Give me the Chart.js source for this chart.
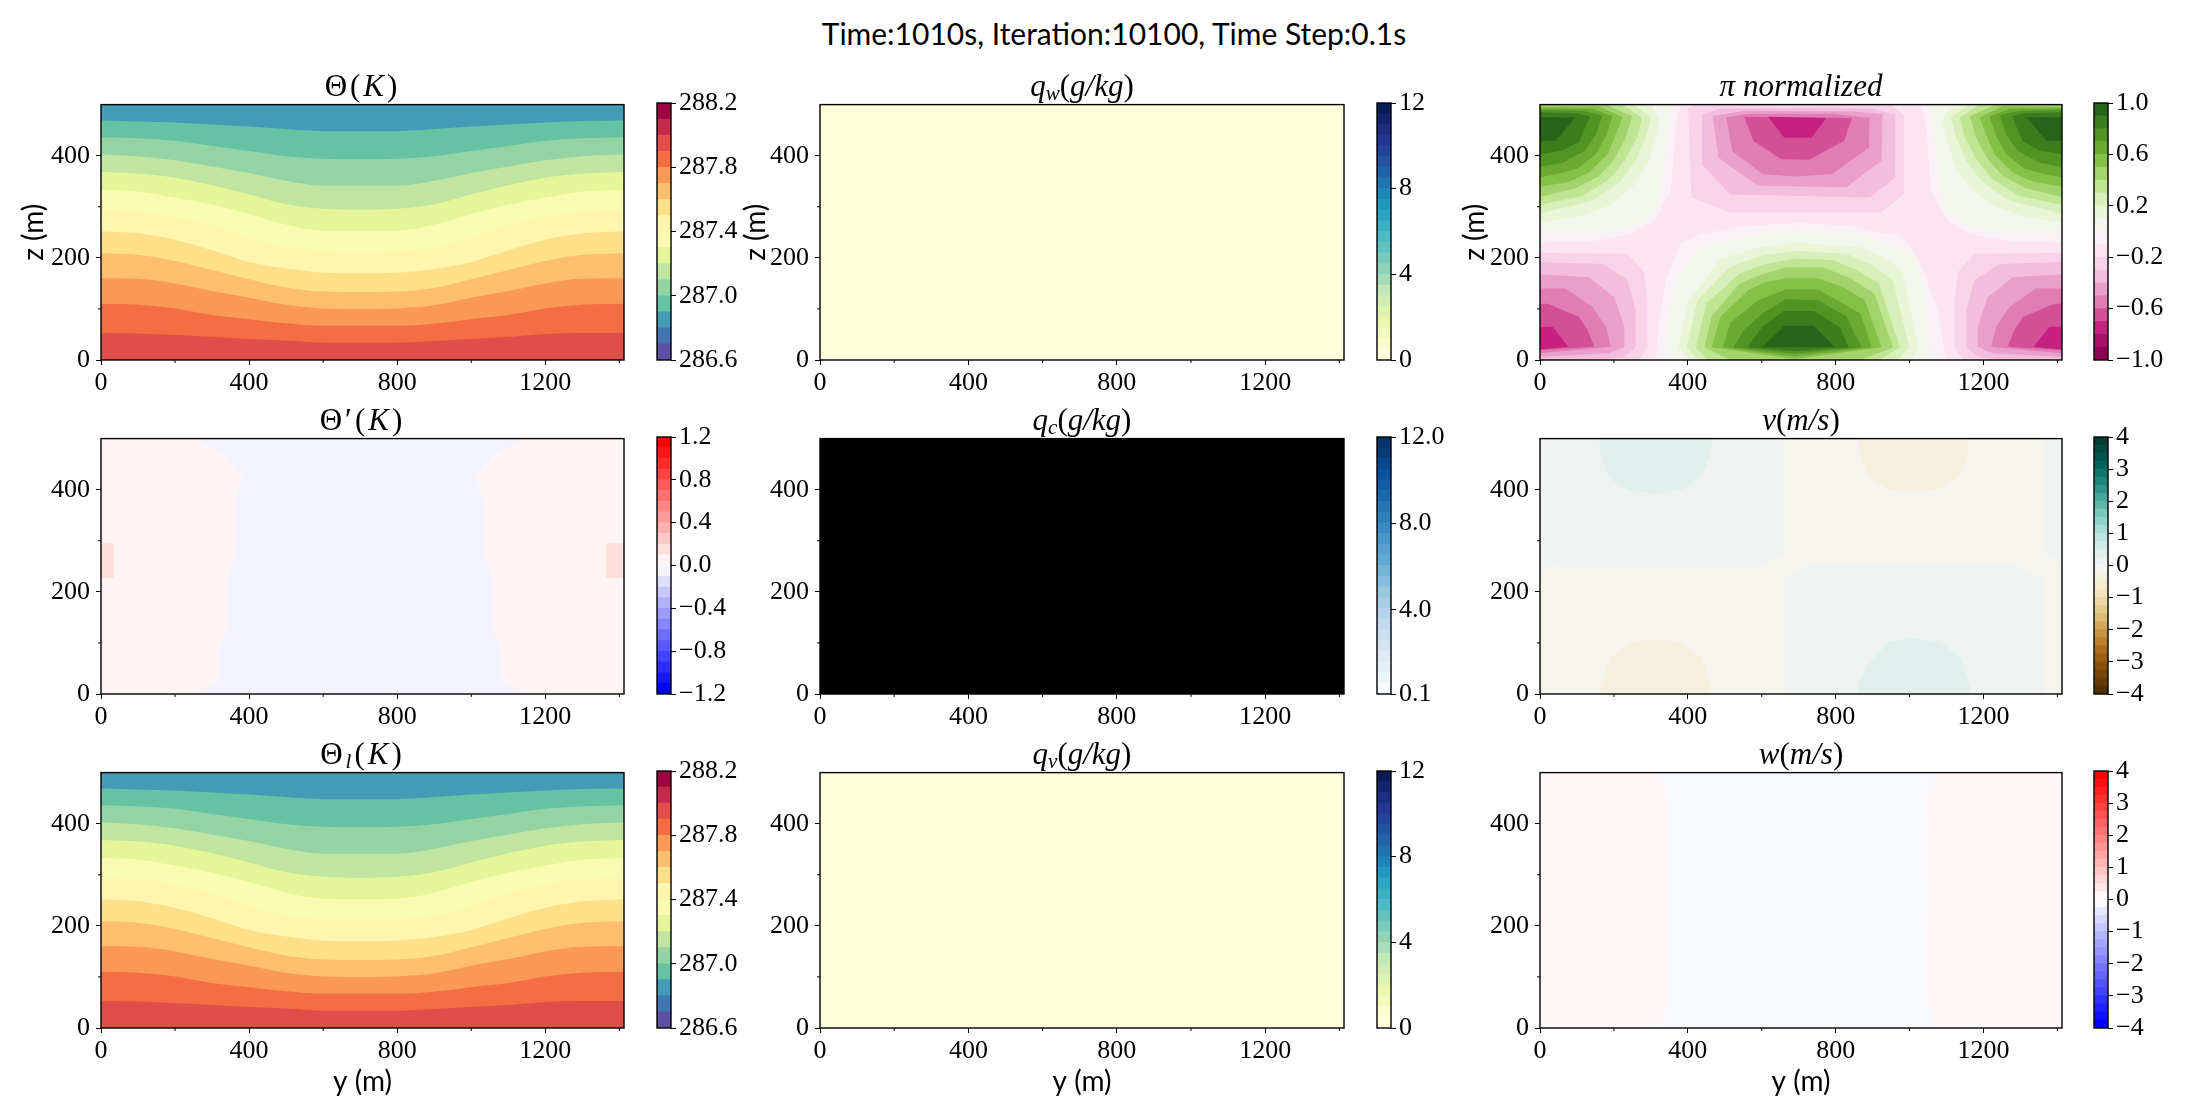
<!DOCTYPE html>
<html>
<head>
<meta charset="utf-8">
<title>Time:1010s, Iteration:10100, Time Step:0.1s</title>
<script src="https://cdn.jsdelivr.net/npm/chart.js@4"></script>
<style>
  html, body { margin: 0; padding: 0; background: #fff; }
  #page { position: relative; width: 2192px; height: 1115px; overflow: hidden; }
  canvas { position: absolute; }
  .title { position: absolute; text-align: center; white-space: nowrap; color: #000; z-index: 2;
           font-family: "Liberation Serif", serif; font-size: 31px; line-height: 30px; }
  .title sub { font-size: 21px; line-height: 0; vertical-align: -4px; }
  .title.wide { letter-spacing: 3px; }
  #suptitle { position: absolute; left: 0; width: 2228px; top: 14px; text-align: center;
              font-family: Lato, sans-serif; font-size: 30px; line-height: 38px; color: #000; }
</style>
</head>
<body>
<div id="page">
  <div id="suptitle">Time:1010s, Iteration:10100, Time Step:0.1s</div>
</div>
<script>
// axis data
const xMax = 1412.5;
const zMax = 500;
const xTicks = [0, 400, 800, 1200];
const zTicks = [0, 200, 400];
const xMinorTicks = [200, 600, 1000, 1400];
const zMinorTicks = [100, 300];

// colour levels of each field
const thetaLevels = [286.6, 286.7, 286.8, 286.9, 287.0, 287.1, 287.2, 287.3, 287.4, 287.5, 287.6, 287.7, 287.8, 287.9, 288.0, 288.1, 288.2];
const primeLevels = [-1.2, -1.1, -1.0, -0.9, -0.8, -0.7, -0.6, -0.5, -0.4, -0.3, -0.2, -0.1, 0, 0.1, 0.2, 0.3, 0.4, 0.5, 0.6, 0.7, 0.8, 0.9, 1.0, 1.1, 1.2];
const piLevels = [-1.0, -0.9, -0.8, -0.7, -0.6, -0.5, -0.4, -0.3, -0.2, -0.1, 0, 0.1, 0.2, 0.3, 0.4, 0.5, 0.6, 0.7, 0.8, 0.9, 1.0];
const qLevels = [0, 0.5, 1, 1.5, 2, 2.5, 3, 3.5, 4, 4.5, 5, 5.5, 6, 6.5, 7, 7.5, 8, 8.5, 9, 9.5, 10, 10.5, 11, 11.5, 12];
const qcLevels = [0.1, 0.6, 1.09, 1.59, 2.08, 2.58, 3.08, 3.57, 4.07, 4.56, 5.06, 5.55, 6.05, 6.55, 7.04, 7.54, 8.03, 8.53, 9.03, 9.52, 10.02, 10.51, 11.01, 11.5, 12];
const windLevels = [-4, -3.75, -3.5, -3.25, -3, -2.75, -2.5, -2.25, -2, -1.75, -1.5, -1.25, -1, -0.75, -0.5, -0.25, 0, 0.25, 0.5, 0.75, 1, 1.25, 1.5, 1.75, 2, 2.25, 2.5, 2.75, 3, 3.25, 3.5, 3.75, 4];

// colourbar ticks
const thetaBarTicks = [286.6, 287.0, 287.4, 287.8, 288.2];
const thetaBarLabels = ['286.6', '287.0', '287.4', '287.8', '288.2'];
const primeBarTicks = [-1.2, -0.8, -0.4, 0, 0.4, 0.8, 1.2];
const primeBarLabels = ['\u22121.2', '\u22120.8', '\u22120.4', '0.0', '0.4', '0.8', '1.2'];
const piBarTicks = [-1.0, -0.6, -0.2, 0.2, 0.6, 1.0];
const piBarLabels = ['\u22121.0', '\u22120.6', '\u22120.2', '0.2', '0.6', '1.0'];
const qBarTicks = [0, 4, 8, 12];
const qBarLabels = ['0', '4', '8', '12'];
const qcBarTicks = [0.1, 4, 8, 12];
const qcBarLabels = ['0.1', '4.0', '8.0', '12.0'];
const windBarTicks = [-4, -3, -2, -1, 0, 1, 2, 3, 4];
const windBarLabels = ['\u22124', '\u22123', '\u22122', '\u22121', '0', '1', '2', '3', '4'];

// colormap stops
const spectralR = ['#5e4fa2', '#3288bd', '#66c2a5', '#abdda4', '#e6f598', '#ffffbf', '#fee08b', '#fdae61', '#f46d43', '#d53e4f', '#9e0142'];
const piyg = ['#8e0152', '#c51b7d', '#de77ae', '#f1b6da', '#fde0ef', '#f7f7f7', '#e6f5d0', '#b8e186', '#7fbc41', '#4d9221', '#276419'];
const brbg = ['#543005', '#8c510a', '#bf812d', '#dfc27d', '#f6e8c3', '#f5f5f5', '#c7eae5', '#80cdc1', '#35978f', '#01665e', '#003c30'];
const ylgnbu = ['#ffffd9', '#edf8b1', '#c7e9b4', '#7fcdbb', '#41b6c4', '#1d91c0', '#225ea8', '#253494', '#081d58'];
const blues = ['#f7fbff', '#deebf7', '#c6dbef', '#9ecae1', '#6baed6', '#4292c6', '#2171b5', '#08519c', '#08306b'];
const bwr = ['#0000ff', '#ffffff', '#ff0000'];

// Theta: contour heights z at each y
const thetaY = [0, 100, 200, 300, 400, 500, 600, 700, 800, 900, 1000, 1100, 1200, 1300, 1412.5];
const thetaLine1 = [53, 52, 49, 45, 41, 38, 34, 34, 34, 37, 41, 45, 51, 53, 53];
const thetaLine2 = [110, 108, 101, 88, 80, 72, 67, 67, 67, 71, 80, 88, 101, 108, 110];
const thetaLine3 = [160, 159, 150, 135, 122, 108, 101, 100, 101, 107, 122, 135, 150, 159, 160];
const thetaLine4 = [209, 206, 194, 176, 158, 142, 134, 133, 134, 141, 158, 176, 194, 206, 209];
const thetaLine5 = [252, 248, 235, 215, 192, 179, 171, 170, 171, 178, 192, 215, 235, 248, 252];
const thetaLine6 = [293, 291, 280, 265, 239, 220, 213, 211, 213, 219, 239, 265, 280, 291, 293];
const thetaLine7 = [333, 330, 318, 304, 286, 265, 253, 252, 253, 265, 286, 304, 318, 330, 333];
const thetaLine8 = [368, 365, 357, 342, 324, 305, 296, 294, 296, 305, 324, 342, 357, 365, 368];
const thetaLine9 = [403, 399, 391, 379, 366, 351, 341, 341, 341, 351, 366, 379, 391, 399, 403];
const thetaLine10 = [436, 434, 429, 419, 409, 399, 394, 393, 394, 399, 409, 419, 429, 434, 436];
const thetaLine11 = [469, 467, 465, 461, 457, 452, 448, 448, 448, 452, 457, 461, 465, 468, 469];
const thetaLine12 = [500, 500, 500, 500, 500, 500, 500, 500, 500, 500, 500, 500, 500, 500, 500];
const thetaBottomUp = [thetaLine1, thetaLine2, thetaLine3, thetaLine4, thetaLine5, thetaLine6, thetaLine7, thetaLine8, thetaLine9, thetaLine10, thetaLine11, thetaLine12];
const thetaBands = [13, 12, 11, 10, 9, 8, 7, 6, 5, 4, 3, 2];

// pi: nested contours, outermost first [y, z]
const piTopCorner = [
  [[0, 500], [381, 500], [368, 461], [354, 331], [313, 276], [250, 247], [160, 234], [0, 230]],
  [[0, 500], [358, 500], [345, 435], [327, 331], [313, 292], [277, 269], [187, 250], [0, 250]],
  [[0, 500], [300, 500], [324, 471], [313, 435], [291, 383], [250, 338], [187, 302], [97, 279], [0, 269]],
  [[0, 500], [255, 500], [300, 474], [286, 435], [259, 390], [214, 347], [142, 312], [0, 287]],
  [[0, 500], [223, 500], [276, 474], [264, 438], [232, 393], [187, 354], [115, 321], [0, 304]],
  [[0, 500], [178, 500], [249, 477], [232, 435], [201, 393], [160, 360], [97, 336], [0, 319]],
  [[0, 496], [160, 497], [223, 475], [205, 441], [183, 403], [133, 367], [79, 349], [0, 339]],
  [[0, 493], [142, 492], [196, 477], [180, 441], [151, 403], [102, 375], [48, 364], [0, 358]],
  [[0, 490], [115, 488], [169, 479], [151, 441], [120, 409], [61, 386], [0, 378]],
  [[0, 485], [100, 483], [135, 477], [106, 428], [61, 410], [0, 403]],
  [[0, 475], [96, 475], [42, 429], [0, 429]]
];
const piBottomCentre = [
  [[313, 0], [322, 71], [340, 156], [381, 227], [438, 247], [564, 263], [706, 268], [829, 263], [980, 241], [1024, 198], [1075, 100], [1099, 0]],
  [[341, 0], [345, 71], [368, 162], [431, 221], [602, 250], [690, 253], [867, 247], [1012, 208], [1043, 130], [1056, 0]],
  [[375, 25], [401, 117], [489, 198], [590, 220], [690, 230], [867, 221], [930, 200], [980, 176], [1024, 25], [1005, 0], [401, 0]],
  [[397, 25], [426, 117], [514, 182], [600, 204], [690, 214], [829, 208], [900, 186], [955, 156], [999, 25], [968, 0], [426, 0]],
  [[422, 25], [451, 111], [539, 169], [610, 188], [690, 198], [791, 196], [860, 175], [917, 150], [974, 25], [917, 0], [451, 0]],
  [[445, 25], [464, 85], [539, 149], [600, 168], [665, 181], [766, 181], [840, 160], [905, 130], [955, 25], [867, 0], [516, 0]],
  [[464, 25], [489, 85], [564, 137], [610, 152], [665, 160], [753, 160], [820, 143], [879, 117], [924, 25], [690, 2]],
  [[495, 25], [514, 72], [590, 117], [665, 138], [753, 138], [867, 91], [898, 25], [690, 7]],
  [[524, 25], [552, 59], [602, 91], [665, 119], [753, 117], [829, 85], [870, 25], [690, 12]],
  [[561, 25], [602, 65], [659, 96], [741, 96], [810, 65], [835, 25], [690, 17]],
  [[602, 25], [661, 67], [741, 67], [798, 25]]
];
const piBottomCorner = [
  [[0, 210], [237, 208], [282, 172], [291, 110], [291, 26], [268, 0], [0, 0]],
  [[0, 192], [169, 188], [237, 156], [259, 97], [259, 26], [228, 6], [160, 0], [0, 0]],
  [[0, 168], [133, 162], [201, 123], [228, 65], [228, 26], [187, 13], [0, 6]],
  [[0, 140], [70, 140], [142, 104], [178, 65], [192, 26], [0, 13]],
  [[0, 110], [21, 110], [106, 84], [129, 58], [147, 26], [0, 19]],
  [[0, 65], [34, 65], [77, 26], [0, 21]]
];
const piTopCentre = [
  [[420, 500], [401, 493], [410, 318], [514, 289], [924, 289], [985, 325], [985, 480], [950, 500]],
  [[438, 480], [438, 383], [514, 324], [892, 318], [961, 357], [961, 481], [892, 493], [489, 493]],
  [[467, 477], [483, 396], [590, 341], [829, 338], [924, 390], [927, 481], [842, 487], [552, 488]],
  [[504, 475], [520, 409], [602, 364], [690, 359], [791, 364], [890, 416], [892, 474], [791, 482], [564, 482]],
  [[552, 476], [577, 429], [653, 393], [728, 392], [823, 429], [844, 474]],
  [[617, 476], [661, 435], [735, 435], [775, 474]]
];
const piGreenBands = [9, 10, 11, 12, 13, 14, 15, 16, 17, 18, 19];
const piPinkBands = [7, 6, 5, 4, 3, 2];

// Theta': one negative region and two warm patches
const primeNegative = [[254, 500], [317, 475], [384, 427], [361, 378], [361, 274], [340, 228], [340, 125], [315, 80], [315, 25], [252, 2], [252, 0], [1147, 0], [1082, 25], [1082, 80], [1059, 125], [1059, 226], [1038, 274], [1038, 374], [1011, 425], [1078, 475], [1141, 500]];
const primeLeftPatch = [[0, 295], [34, 295], [34, 227], [0, 227]];
const primeRightPatch = [[1364, 295], [1412.5, 295], [1412.5, 227], [1364, 227]];

// v: positive and negative lobes
const vTealTopLeft = [[0, 500], [661, 500], [661, 274], [590, 249], [16, 250], [0, 255]];
const vTealTopRight = [[1362, 500], [1412.5, 500], [1412.5, 258], [1362, 274]];
const vTealBottom = [[661, 0], [661, 226], [728, 252], [1289, 252], [1362, 226], [1362, 0]];
const vLobeTopLeft = [[161, 500], [161, 475], [186, 423], [239, 399], [312, 392], [386, 401], [438, 427], [464, 475], [464, 500]];
const vLobeBottomRight = [[861, 0], [861, 21], [892, 60], [942, 102], [1012, 109], [1081, 102], [1138, 73], [1163, 15], [1163, 0]];
const vLobeTopRight = [[863, 500], [863, 475], [892, 423], [942, 401], [1012, 394], [1081, 401], [1138, 427], [1159, 475], [1159, 500]];
const vLobeBottomLeft = [[164, 0], [164, 21], [193, 73], [239, 100], [312, 108], [382, 100], [438, 73], [461, 21], [461, 0]];

// w: central downdraft
const wNegative = [[319, 500], [350, 454], [350, 47], [319, 0], [1075, 0], [1046, 47], [1046, 177], [1050, 255], [1046, 454], [1075, 500]];

const fullDomain = [[0, 0], [xMax, 0], [xMax, zMax], [0, zMax]];

function hexToRgb(hex) {
  return [1, 3, 5].map(i => parseInt(hex.substr(i, 2), 16));
}

// sample a colormap at n evenly spaced places, ends included
function sampleColors(stops, n) {
  const out = [];
  for (let i = 0; i < n; i++) {
    const t = i / (n - 1) * (stops.length - 1);
    const k = Math.min(Math.floor(t), stops.length - 2);
    const a = hexToRgb(stops[k]);
    const b = hexToRgb(stops[k + 1]);
    const c = a.map((v, j) => Math.round(v + (b[j] - v) * (t - k)));
    out.push(`rgb(${c[0]},${c[1]},${c[2]})`);
  }
  return out;
}

function polygonSet(points, color) {
  return {
    data: points.map(p => ({ x: p[0], y: p[1] })),
    polygon: true,
    backgroundColor: color,
    showLine: false,
    pointRadius: 0
  };
}

function contourSet(zs, color) {
  return {
    data: thetaY.map((y, i) => ({ x: y, y: zs[i] })),
    showLine: true,
    fill: { value: 0 },
    backgroundColor: color,
    borderWidth: 0,
    pointRadius: 0,
    cubicInterpolationMode: 'monotone'
  };
}

const mirrored = points => points.map(p => [xMax - p[0], p[1]]);

// fills the closed regions, using the points the scales already placed
const polygonPlugin = {
  id: 'polygonFill',
  beforeDatasetsDraw(chart) {
    const ctx = chart.ctx;
    const a = chart.chartArea;
    ctx.save();
    ctx.beginPath();
    ctx.rect(a.left, a.top, a.width, a.height);
    ctx.clip();
    chart.data.datasets.forEach((ds, i) => {
      if (!ds.polygon) return;
      const pts = chart.getDatasetMeta(i).data;
      ctx.beginPath();
      pts.forEach((p, j) => (j ? ctx.lineTo(p.x, p.y) : ctx.moveTo(p.x, p.y)));
      ctx.closePath();
      ctx.fillStyle = ds.backgroundColor;
      ctx.fill();
    });
    ctx.restore();
  }
};

// axes frame and the short unlabelled ticks
const framePlugin = {
  id: 'frame',
  afterDraw(chart, args, opts) {
    const ctx = chart.ctx;
    const a = chart.chartArea;
    ctx.save();
    ctx.strokeStyle = '#000';
    ctx.lineWidth = 1.4;
    ctx.strokeRect(a.left, a.top, a.width, a.height);
    if (opts.minor) {
      ctx.lineWidth = 1;
      ctx.beginPath();
      xMinorTicks.forEach(v => {
        const px = chart.scales.x.getPixelForValue(v);
        ctx.moveTo(px, a.bottom);
        ctx.lineTo(px, a.bottom + 3);
      });
      zMinorTicks.forEach(v => {
        const py = chart.scales.y.getPixelForValue(v);
        ctx.moveTo(a.left, py);
        ctx.lineTo(a.left - 3, py);
      });
      ctx.stroke();
    }
    ctx.restore();
  }
};

Chart.register(polygonPlugin, framePlugin);

const tickFont = { family: 'Liberation Serif', size: 26 };
const labelFont = { family: 'Lato', size: 28 };
const plotHeight = 257;
const plotTopMargin = 20;

function addCanvas(left, top, width, height) {
  const c = document.createElement('canvas');
  c.width = width;
  c.height = height;
  c.style.left = left + 'px';
  c.style.top = top + 'px';
  c.style.width = width + 'px';
  c.style.height = height + 'px';
  document.getElementById('page').appendChild(c);
  return c;
}

function fixedTicks(values) {
  return s => { s.ticks = values.map(v => ({ value: v })); };
}

function drawPanel(col, rowTop, datasets, opts) {
  const left = col.labelX - 17;
  const xHeight = opts.xLabel ? 71 : 40;
  const yWidth = col.plotLeft - left;
  const c = addCanvas(left, rowTop - plotTopMargin, col.plotRight - left + 20, plotTopMargin + plotHeight + xHeight);
  new Chart(c, {
    type: 'scatter',
    data: { datasets: datasets },
    options: {
      responsive: false,
      animation: false,
      layout: { padding: { top: plotTopMargin, right: 20, left: 0, bottom: 0 } },
      plugins: { legend: { display: false }, tooltip: { enabled: false }, frame: { minor: true } },
      scales: {
        x: {
          type: 'linear',
          min: 0,
          max: xMax,
          afterBuildTicks: fixedTicks(xTicks),
          afterFit: s => { s.height = xHeight; },
          border: { display: false },
          grid: { drawOnChartArea: false, tickLength: 5, tickColor: '#000', tickWidth: 1 },
          ticks: { color: '#000', font: tickFont, padding: 3, maxRotation: 0, autoSkip: false, callback: v => String(v) },
          title: { display: !!opts.xLabel, text: 'y (m)', color: '#000', font: labelFont, padding: 0 }
        },
        y: {
          type: 'linear',
          min: 0,
          max: zMax,
          afterBuildTicks: fixedTicks(zTicks),
          afterFit: s => { s.width = yWidth; },
          border: { display: false },
          grid: { drawOnChartArea: false, tickLength: 5, tickColor: '#000', tickWidth: 1 },
          ticks: { color: '#000', font: tickFont, padding: 6, autoSkip: false, callback: v => String(v) },
          title: { display: !!opts.zLabel, text: 'z (m)', color: '#000', font: labelFont, padding: 0 }
        }
      }
    }
  });
}

function drawColorbar(col, rowTop, levels, colors, ticks, labels) {
  const c = addCanvas(col.cbarLeft - 2, rowTop - plotTopMargin, 104, plotHeight + 2 * plotTopMargin);
  const sets = colors.map((color, i) => ({
    data: [[levels[i], levels[i + 1]]],
    backgroundColor: color,
    borderWidth: 0,
    barPercentage: 1,
    categoryPercentage: 1,
    grouped: false
  }));
  new Chart(c, {
    type: 'bar',
    data: { labels: [''], datasets: sets },
    options: {
      responsive: false,
      animation: false,
      layout: { padding: { top: plotTopMargin, bottom: plotTopMargin, left: 2, right: 0 } },
      plugins: { legend: { display: false }, tooltip: { enabled: false }, frame: { minor: false } },
      scales: {
        x: { display: false },
        y: {
          position: 'right',
          min: levels[0],
          max: levels[levels.length - 1],
          afterBuildTicks: fixedTicks(ticks),
          afterFit: s => { s.width = 88; },
          border: { display: false },
          grid: { drawOnChartArea: false, tickLength: 5, tickColor: '#000', tickWidth: 1 },
          ticks: {
            color: '#000',
            font: tickFont,
            padding: 3,
            autoSkip: false,
            callback: (v, i) => labels[i]
          }
        }
      }
    }
  });
}

function addTitle(col, rowTop, html, wide) {
  const d = document.createElement('div');
  d.className = wide ? 'title wide' : 'title';
  d.style.left = col.plotLeft + 'px';
  d.style.width = (col.plotRight - col.plotLeft) + 'px';
  d.style.top = (rowTop - 32) + 'px';
  d.innerHTML = html;
  document.getElementById('page').appendChild(d);
}

const col1 = { plotLeft: 101, plotRight: 624, cbarLeft: 657, labelX: 34 };
const col2 = { plotLeft: 820, plotRight: 1344, cbarLeft: 1377, labelX: 756 };
const col3 = { plotLeft: 1540, plotRight: 2062, cbarLeft: 2094, labelX: 1475 };
const row1 = 103;
const row2 = 437;
const row3 = 771;

const thetaColors = sampleColors(spectralR, 16);
const primeColors = sampleColors(bwr, 24);
const piColors = sampleColors(piyg, 20);
const qwColors = sampleColors(ylgnbu, 24);
const qcColors = sampleColors(blues, 24);
const vColors = sampleColors(brbg, 32);
const wColors = sampleColors(bwr, 32);

function thetaDatasets() {
  return thetaBottomUp.map((line, i) => contourSet(line, thetaColors[thetaBands[i]]));
}

function piDatasets() {
  const sets = [polygonSet(fullDomain, piColors[8])];
  piTopCorner.forEach((p, i) => sets.push(polygonSet(p, piColors[piGreenBands[i]])));
  piTopCorner.forEach((p, i) => sets.push(polygonSet(mirrored(p), piColors[piGreenBands[i]])));
  piBottomCentre.forEach((p, i) => sets.push(polygonSet(p, piColors[piGreenBands[i]])));
  piBottomCorner.forEach((p, i) => sets.push(polygonSet(p, piColors[piPinkBands[i]])));
  piBottomCorner.forEach((p, i) => sets.push(polygonSet(mirrored(p), piColors[piPinkBands[i]])));
  piTopCentre.forEach((p, i) => sets.push(polygonSet(p, piColors[piPinkBands[i]])));
  return sets;
}

// left column
drawPanel(col1, row1, thetaDatasets(), { zLabel: true });
drawColorbar(col1, row1, thetaLevels, thetaColors, thetaBarTicks, thetaBarLabels);
addTitle(col1, row1, '\u0398(<i>K</i>)', true);

drawPanel(col1, row2, [
  polygonSet(fullDomain, primeColors[12]),
  polygonSet(primeNegative, primeColors[11]),
  polygonSet(primeLeftPatch, primeColors[13]),
  polygonSet(primeRightPatch, primeColors[13])
], {});
drawColorbar(col1, row2, primeLevels, primeColors, primeBarTicks, primeBarLabels);
addTitle(col1, row2, '\u0398\u2032(<i>K</i>)', true);

drawPanel(col1, row3, thetaDatasets(), { xLabel: true });
drawColorbar(col1, row3, thetaLevels, thetaColors, thetaBarTicks, thetaBarLabels);
addTitle(col1, row3, '\u0398<sub><i>l</i></sub>(<i>K</i>)', true);

// middle column
drawPanel(col2, row1, [polygonSet(fullDomain, qwColors[0])], { zLabel: true });
drawColorbar(col2, row1, qLevels, qwColors, qBarTicks, qBarLabels);
addTitle(col2, row1, '<i>q<sub>w</sub></i>(<i>g/kg</i>)');

drawPanel(col2, row2, [polygonSet(fullDomain, '#000000')], {});
drawColorbar(col2, row2, qcLevels, qcColors, qcBarTicks, qcBarLabels);
addTitle(col2, row2, '<i>q<sub>c</sub></i>(<i>g/kg</i>)');

drawPanel(col2, row3, [polygonSet(fullDomain, qwColors[0])], { xLabel: true });
drawColorbar(col2, row3, qLevels, qwColors, qBarTicks, qBarLabels);
addTitle(col2, row3, '<i>q<sub>v</sub></i>(<i>g/kg</i>)');

// right column
drawPanel(col3, row1, piDatasets(), { zLabel: true });
drawColorbar(col3, row1, piLevels, piColors, piBarTicks, piBarLabels);
addTitle(col3, row1, '<i>\u03c0 normalized</i>');

drawPanel(col3, row2, [
  polygonSet(fullDomain, vColors[15]),
  polygonSet(vTealTopLeft, vColors[16]),
  polygonSet(vTealTopRight, vColors[16]),
  polygonSet(vTealBottom, vColors[16]),
  polygonSet(vLobeTopLeft, vColors[17]),
  polygonSet(vLobeBottomRight, vColors[17]),
  polygonSet(vLobeTopRight, vColors[14]),
  polygonSet(vLobeBottomLeft, vColors[14])
], {});
drawColorbar(col3, row2, windLevels, vColors, windBarTicks, windBarLabels);
addTitle(col3, row2, '<i>v</i>(<i>m/s</i>)');

drawPanel(col3, row3, [
  polygonSet(fullDomain, wColors[16]),
  polygonSet(wNegative, wColors[15])
], { xLabel: true });
drawColorbar(col3, row3, windLevels, wColors, windBarTicks, windBarLabels);
addTitle(col3, row3, '<i>w</i>(<i>m/s</i>)');
</script>
</body>
</html>
